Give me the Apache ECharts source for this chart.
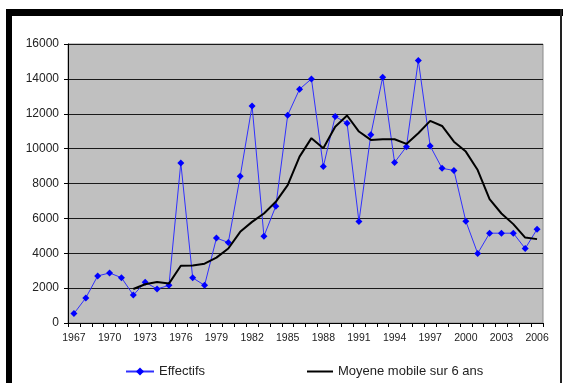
<!DOCTYPE html>
<html>
<head>
<meta charset="utf-8">
<style>
  html, body { margin: 0; padding: 0; background: #fff; }
  #chart { width: 563px; height: 383px; }
</style>
<script src="https://cdn.jsdelivr.net/npm/echarts@6/dist/echarts.min.js"></script>
</head>
<body>
<div id="chart"></div>
<script>
// Years shown on the category axis
const years = [];
for (let y = 1967; y <= 2006; y++) years.push(String(y));

// Annual headcount ("Effectifs")
const effectifs = [
  540, 1440, 2700, 2870, 2600, 1600, 2340, 1950, 2160, 9180,
  2590, 2160, 4870, 4620, 8410, 12450, 4980, 6700, 11920, 13410,
  14000, 8970, 11840, 11460, 5820, 10800, 14100, 9210, 10110, 15060,
  10150, 8870, 8750, 5840, 3990, 5150, 5150, 5150, 4270, 5380
];

// 6-year moving average (first five years have no value)
const moyenne = [
  null, null, null, null, null, 1950, 2220, 2350, 2260, 3280,
  3300, 3400, 3750, 4270, 5230, 5800, 6280, 6950, 7910, 9540,
  10600, 10020, 11260, 11900, 10980, 10500, 10540, 10540, 10270, 10880,
  11590, 11300, 10400, 9830, 8770, 7100, 6280, 5670, 4900, 4810
];

const FONT = 'Liberation Sans, Arial, sans-serif';
const chart = echarts.init(document.getElementById('chart'), null, { renderer: 'canvas' });

chart.setOption({
  backgroundColor: '#ffffff',
  animation: false,
  textStyle: { fontFamily: FONT },
  graphic: [
    // frame around the chart
    { type: 'rect', shape: { x: 6, y: 9, width: 557, height: 7 }, style: { fill: '#000' }, z: 100 },
    { type: 'rect', shape: { x: 6, y: 9, width: 6, height: 374 }, style: { fill: '#000' }, z: 100 },
    { type: 'rect', shape: { x: 560, y: 9, width: 2, height: 374 }, style: { fill: '#222' }, z: 100 }
  ],
  grid: {
    left: 68, top: 44, right: 20, bottom: 60,
    show: true, backgroundColor: '#C0C0C0', borderColor: '#8a8a8a', borderWidth: 1
  },
  legend: [
    {
      data: ['Effectifs'], left: 120, top: 360, itemWidth: 28, itemHeight: 10,
      textStyle: { fontSize: 13, color: '#222', fontFamily: FONT }
    },
    {
      data: [{ name: 'Moyene mobile sur 6 ans', icon: 'rect' }],
      left: 302, top: 360, itemWidth: 26, itemHeight: 2,
      textStyle: { fontSize: 13, color: '#222', fontFamily: FONT, padding: [0, 0, 0, 0] }
    }
  ],
  xAxis: {
    type: 'category',
    data: years,
    boundaryGap: true,
    axisLine: { lineStyle: { color: '#000', width: 1 } },
    axisTick: { show: true, interval: 0, length: 4, lineStyle: { color: '#000' } },
    axisLabel: { interval: 2, fontSize: 10.5, color: '#222', margin: 10, fontFamily: FONT },
    splitLine: { show: false }
  },
  yAxis: {
    type: 'value',
    min: 0, max: 16000, interval: 2000,
    axisLine: { show: true, lineStyle: { color: '#000', width: 1 } },
    axisTick: { show: true, length: 4, lineStyle: { color: '#000' } },
    axisLabel: {
      fontSize: 12, color: '#222', margin: 9, fontFamily: FONT,
      formatter: v => String(v)
    },
    splitLine: { show: true, lineStyle: { color: '#1a1a1a', width: 1 } }
  },
  series: [
    {
      name: 'Effectifs',
      type: 'line',
      data: effectifs,
      symbol: 'diamond',
      symbolSize: 7,
      itemStyle: { color: '#0000FF' },
      lineStyle: { color: '#3030FF', width: 1 },
      z: 3
    },
    {
      name: 'Moyene mobile sur 6 ans',
      type: 'line',
      data: moyenne,
      showSymbol: false,
      symbol: 'none',
      itemStyle: { color: '#000' },
      lineStyle: { color: '#000', width: 2 },
      z: 4
    }
  ]
});
</script>
</body>
</html>
